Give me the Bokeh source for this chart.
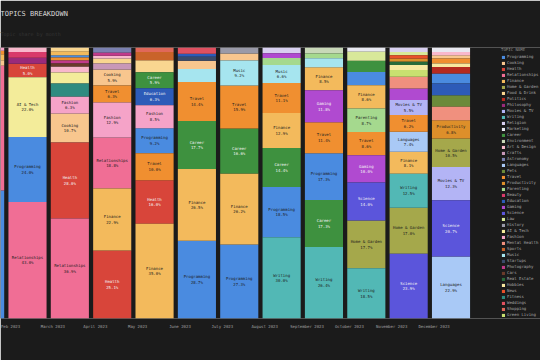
from bokeh.plotting import figure
from bokeh.models import ColumnDataSource, Legend, LegendItem, FixedTicker, Title, Range1d
from bokeh.core.properties import value
from bokeh.embed import file_html
from bokeh.resources import INLINE

BG = "#1b1b1b"
MONO = "DejaVu Sans Mono"

months = ["Jan 2023", "Feb 2023", "March 2023", "April 2023", "May 2023", "June 2023",
          "July 2023", "August 2023", "September 2023", "October 2023",
          "November 2023", "December 2023"]

topics = ["Programming", "Cooking", "Health", "Relationships", "Finance", "Home & Garden",
          "Food & Drink", "Politics", "Philosophy", "Movies & TV", "Writing", "Religion",
          "Marketing", "Career", "Environment", "Art & Design", "Crafts",
          "Astronomy", "Languages", "Pets", "Travel", "Productivity", "Parenting",
          "Beauty", "Education", "Gaming", "Science", "Law", "History", "AI & Tech",
          "Fashion", "Mental Health", "Sports", "Music", "Startups", "Photography",
          "Cars", "Real Estate", "Hobbies", "News", "Fitness", "Weddings", "Shopping",
          "Green Living"]

colors = ["#4a8be0", "#f8c68e", "#d8453a", "#f06e95", "#f3ba5c", "#a5a84b",
          "#f9d690", "#b52a20", "#9a2a7a", "#b3b4f5", "#52b8b5", "#d8d0f0",
          "#e8e8f0", "#3e913f", "#c8d8b8", "#f8b8cc", "#c898b8",
          "#7a80b0", "#a9c9f6", "#6b8a3a", "#f08f30", "#dd8f2a", "#a5d98e",
          "#d83a6a", "#2d5bb8", "#b04ad0", "#5b55db", "#d8e89a", "#9a9aa8", "#f3ec9a",
          "#f5a3c8", "#f0907e", "#c9632a", "#a6e5ef", "#3a4a6a", "#c03a8a",
          "#6a3a2a", "#2a6a3a", "#f8e8a0", "#e8502a", "#2e8b80", "#e05060", "#e0685a",
          "#c8e070"]

# share of conversations per month (%), listed from the bottom of each bar to the top
jan = {"Programming": 47.2, "Relationships": 46.1, "Cooking": 2.0, "Finance": 2.2,
       "Travel": 1.3, "Fashion": 1.2}
feb = {"Relationships": 43.0, "Programming": 24.0, "AI & Tech": 22.0, "Health": 5.0,
       "Philosophy": 2.2, "Beauty": 2.1, "Art & Design": 1.7}
mar = {"Relationships": 36.9, "Health": 28.0, "Cooking": 10.7, "Fashion": 6.3,
       "Fitness": 4.8, "AI & Tech": 4.1, "Art & Design": 2.2, "Cars": 1.1,
       "Photography": 1.1, "Travel": 1.1, "Programming": 0.8, "Finance": 1.5,
       "Food & Drink": 1.4}
apr = {"Health": 25.1, "Finance": 22.9, "Relationships": 18.8, "Fashion": 12.9,
       "Travel": 6.3, "Cooking": 5.9, "Crafts": 2.2, "Food & Drink": 1.8,
       "Art & Design": 1.1, "Photography": 1.1, "Astronomy": 1.9}
may = {"Finance": 35.0, "Health": 16.0, "Travel": 10.0, "Programming": 9.2,
       "Fashion": 8.5, "Education": 6.3, "Career": 5.9, "Food & Drink": 4.4,
       "Sports": 3.0, "Shopping": 1.7}
jun = {"Programming": 28.7, "Finance": 26.5, "Career": 17.7, "Travel": 14.4,
       "Music": 4.8, "Cooking": 3.0, "Startups": 1.5, "Education": 1.1, "Weddings": 2.3}
jul = {"Programming": 27.3, "Finance": 26.2, "Career": 16.6, "Travel": 15.9,
       "Music": 9.2, "Cooking": 2.6, "History": 2.2}
aug = {"Writing": 30.0, "Programming": 18.5, "Career": 14.4, "Finance": 12.9,
       "Travel": 11.1, "Music": 6.6, "Parenting": 2.6, "Gaming": 1.8, "Religion": 2.1}
sep = {"Writing": 26.4, "Career": 17.3, "Programming": 17.3, "Travel": 11.4,
       "Gaming": 11.8, "Finance": 8.5, "Music": 3.3, "Parenting": 1.8,
       "Environment": 2.2}
oct_ = {"Writing": 18.5, "Home & Garden": 17.7, "Science": 14.0, "Gaming": 10.0,
        "Travel": 8.6, "Parenting": 8.7, "Finance": 8.6, "Programming": 4.9,
        "Career": 4.1, "Law": 3.3, "Marketing": 1.6}
nov = {"Science": 23.9, "Home & Garden": 17.0, "Writing": 12.5, "Finance": 8.1,
       "Languages": 7.4, "Travel": 6.2, "Movies & TV": 5.5, "Gaming": 4.3,
       "Mental Health": 4.3, "Green Living": 2.5, "Hobbies": 1.8, "Real Estate": 1.2,
       "Productivity": 1.2, "News": 1.2, "Law": 1.2, "Religion": 1.7}
dec = {"Languages": 22.9, "Science": 20.7, "Movies & TV": 12.3,
       "Home & Garden": 10.5, "Productivity": 6.8, "Mental Health": 4.9, "Pets": 4.3,
       "Education": 4.3, "Programming": 3.7, "Politics": 2.4, "Hobbies": 1.3,
       "Travel": 1.8, "Cooking": 1.2, "Art & Design": 1.2, "Marketing": 1.7}

month_data = [jan, feb, mar, apr, may, jun, jul, aug, sep, oct_, nov, dec]

BAR_W = 0.9
SHIFT = 0.4  # bar centre sits right of its (left-aligned) tick


def lum(hexcol):
    r, g, b = (int(hexcol[i:i + 2], 16) / 255 for i in (1, 3, 5))
    return 0.299 * r + 0.587 * g + 0.114 * b


color_of = dict(zip(topics, colors))
segs = {t: {"x": [], "bottom": [], "top": []} for t in topics}
lab = {"x": [], "y": [], "text": [], "color": []}
for i, md in enumerate(month_data):
    total = sum(md.values())
    cum = 0.0
    for t, v in md.items():
        pct = v / total * 100
        segs[t]["x"].append(i + SHIFT)
        segs[t]["bottom"].append(cum)
        segs[t]["top"].append(cum + pct)
        if pct >= 5 and i > 0:  # the January bar is mostly outside the view
            lab["x"].append(i + SHIFT)
            lab["y"].append(cum + pct / 2)
            lab["text"].append(f"{t}\n{pct:.1f}%")
            lab["color"].append("#1e1e1e" if lum(color_of[t]) > 0.5 else "#f4f4f4")
        cum += pct

p = figure(width=540, height=360, x_range=Range1d(0.7625, 13.513), y_range=Range1d(0, 100),
           output_backend="svg", toolbar_location=None, title=None,
           background_fill_color=BG, border_fill_color=BG, outline_line_color=None,
           min_border_left=0, min_border_right=0, min_border_top=47, min_border_bottom=42)

p.add_layout(Title(text="Topic share by month", text_font=MONO,
                   text_font_size="5px", text_color="#333333", text_font_style="normal",
                   offset=0, standoff=22), "above")
p.add_layout(Title(text="TOPICS BREAKDOWN", text_font=MONO, text_font_size="7px",
                   text_color="#d6d6d6", text_font_style="normal", offset=0,
                   standoff=0), "above")

items = []
for t in topics:
    r = p.vbar(x="x", width=BAR_W, bottom="bottom", top="top",
               source=ColumnDataSource(segs[t]), fill_color=color_of[t], line_color=None)
    items.append(LegendItem(label=t, renderers=[r]))

p.text(x="x", y="y", text="text", text_color="color", source=ColumnDataSource(lab),
       text_font=value(MONO), text_font_size="4px", text_align="center",
       text_baseline="middle", text_line_height=1.1)

legend = Legend(items=items, location=(501, 1), title="TOPIC NAME",
                title_text_font=MONO, title_text_font_size="4px", title_text_color="#8a8a8a",
                title_text_font_style="normal", title_standoff=2,
                label_text_font=MONO, label_text_font_size="4px", label_text_color="#a8a8a8",
                label_height=5, glyph_height=4, glyph_width=4, label_standoff=2,
                spacing=1, padding=0, margin=0,
                background_fill_alpha=0, border_line_alpha=0)
p.add_layout(legend)

p.yaxis.visible = False
p.xgrid.visible = False
p.ygrid.visible = False
ax = p.xaxis[0]
ax.ticker = FixedTicker(ticks=list(range(len(months))))
ax.major_label_overrides = {i: m for i, m in enumerate(months)}
ax.major_label_text_align = "left"
ax.major_label_text_font = MONO
ax.major_label_text_font_size = "4px"
ax.major_label_text_color = "#a0a0a0"
ax.major_label_standoff = 5
ax.major_tick_out = 0
ax.major_tick_in = 0
ax.axis_line_color = None
ax.major_tick_line_color = None
ax.minor_tick_line_color = None

open("out.html", "w").write(file_html(p, INLINE))
